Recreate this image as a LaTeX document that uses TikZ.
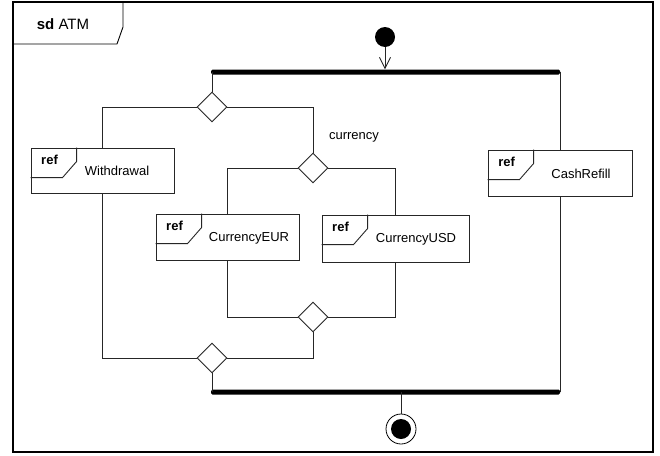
\documentclass[tikz,border=0pt]{standalone}
\usepackage{fontspec}
\setmainfont{Liberation Sans}
\usetikzlibrary{shapes.geometric,arrows.meta}
\begin{document}
\begin{tikzpicture}[x=1pt,y=-1pt,
  conn/.style={draw=black!85, line width=0.9pt},
  decision/.style={diamond, draw=black!85, line width=0.9pt, minimum width=30pt, minimum height=30pt, inner sep=0pt, fill=white},
  refbox/.style={rectangle, draw=black!85, line width=0.9pt, minimum width=144pt, minimum height=46pt, inner sep=0pt, fill=white},
  bar/.style={rectangle, fill=black, rounded corners=1.5pt, inner sep=0pt, minimum height=5pt, minimum width=349pt},
  txt/.style={font=\fontsize{13}{15}\selectfont, inner sep=0pt},
  reftxt/.style={font=\fontsize{13}{15}\selectfont\bfseries, inner sep=0pt}
]
\useasboundingbox (0,0) rectangle (660,455);
% frame
\draw[line width=1.2pt] (13,2) rectangle (653,452);
\draw[line width=0.9pt] (13,44) -- (117,44) -- (123,27) -- (123,2);
\node[font=\fontsize{15}{17}\selectfont, inner sep=0pt] (title) at (63,24) {\textbf{sd} ATM};

% bars
\node[bar] (topbar) at (385.5,72) {};
\node[bar] (botbar) at (385.5,392) {};

% initial and final
\node[circle, fill=black, minimum size=20pt, inner sep=0pt] (init) at (385,37) {};
\node[circle, draw=black, line width=0.8pt, fill=white, minimum size=30pt, inner sep=0pt] (final) at (401,429) {};
\node[circle, fill=black, minimum size=20pt, inner sep=0pt] (finalin) at (401,429) {};

% decisions
\node[decision] (d1) at (212,107) {};
\node[decision] (d2) at (313,168) {};
\node[decision] (d3) at (313,317) {};
\node[decision] (d4) at (212,358) {};

% ref boxes
\node[refbox, minimum width=143pt, minimum height=45pt] (wd) at (102.5,170.5) {};
\node[refbox, minimum width=143pt] (eur) at (227.5,237) {};
\node[refbox, minimum width=147pt, minimum height=47pt] (usd) at (395.5,238.5) {};
\node[refbox] (cr) at (560,173) {};

\foreach \b in {wd,eur,usd,cr}{
  \draw[draw=black!85, line width=0.9pt] (\b.north west) ++(46,0) -- ++(0,14) -- ++(-14,16) -- ++(-32,0);
}
\node[reftxt] (wdref) at ([xshift=19pt,yshift=-12pt]wd.north west) {ref};
\node[reftxt] (eurref) at ([xshift=19pt,yshift=-12pt]eur.north west) {ref};
\node[reftxt] (usdref) at ([xshift=19pt,yshift=-12pt]usd.north west) {ref};
\node[reftxt] (crref) at ([xshift=19pt,yshift=-12pt]cr.north west) {ref};

\node[txt] (wdt) at (117,171) {Withdrawal};
\node[txt] (eurt) at (249,238) {CurrencyEUR};
\node[txt] (usdt) at (416,239) {CurrencyUSD};
\node[txt] (crt) at (581,174) {CashRefill};

\node[txt] (curlbl) at (354,137) {currency};

% connectors
\draw[conn, -{Straight Barb[length=11pt,width=11pt]}] (init.south) -- (init |- topbar.north);
\draw[conn] (d1.north) -- (d1 |- topbar.center);
\draw[conn] (d1.west) -| (wd.north);
\draw[conn] (d1.east) -| (d2.north);
\draw[conn] (d2.west) -| (eur.north);
\draw[conn] (d2.east) -| (usd.north);
\draw[conn] (eur.south) |- (d3.west);
\draw[conn] (usd.south) |- (d3.east);
\draw[conn] (d3.south) |- (d4.east);
\draw[conn] (wd.south) |- (d4.west);
\draw[conn] (d4.south) -- (d4 |- botbar.center);
\draw[conn] (cr.north) -- (cr |- topbar.center);
\draw[conn] (cr.south) -- (cr |- botbar.center);
\draw[conn] (final.north) -- (final |- botbar.center);
\end{tikzpicture}
\end{document}
